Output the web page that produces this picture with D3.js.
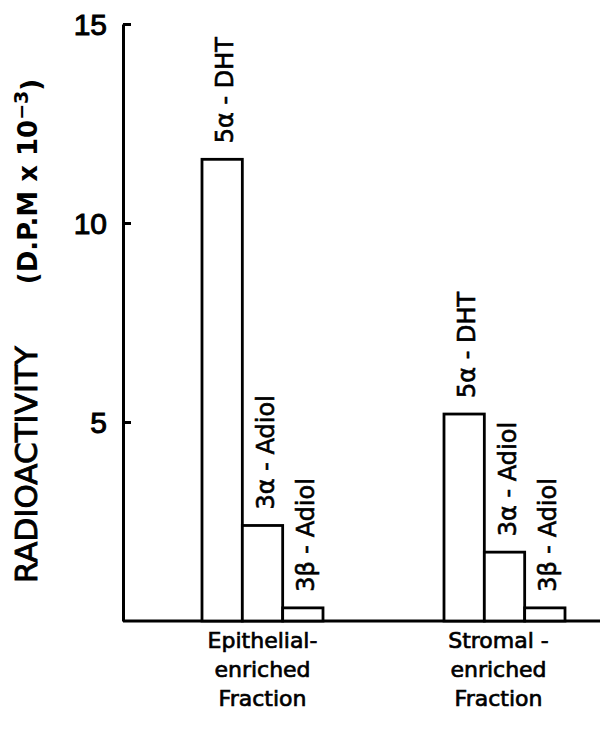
<!DOCTYPE html>
<html>
<head>
<meta charset="utf-8">
<script src="https://cdn.jsdelivr.net/npm/d3@7"></script>
<style>
  html, body { margin: 0; padding: 0; background: #fff; }
  svg { display: block; }
</style>
</head>
<body>
<div id="chart"></div>
<script>
// ---- data ----
const groups = ["Epithelial-enriched Fraction", "Stromal-enriched Fraction"];
const groupLabelLines = [["Epithelial-", "enriched", "Fraction"], ["Stromal -", "enriched", "Fraction"]];
const compounds = ["5α - DHT", "3α - Adiol", "3β - Adiol"];
const epithelialValues = [11.6, 2.4, 0.33];
const stromalValues = [5.2, 1.73, 0.33];
const yTicks = [5, 10, 15];
const yTitleMain = "RADIOACTIVITY";
const yTitleUnit = "(D.P.M  x  10";
const yTitleExp = "−3";

const seriesByGroup = [epithelialValues, stromalValues];

// ---- layout ----
const W = 600, H = 730;
const axisX = 123, baseY = 621, topY = 24;

const svg = d3.select("#chart").append("svg")
  .attr("width", W).attr("height", H);

const y = d3.scaleLinear().domain([0, 15]).range([baseY, topY]);
const xGroup = d3.scaleBand().domain(groups).range([202, 565]).paddingInner(0.5).paddingOuter(0);
const xInner = d3.scaleBand().domain(compounds).range([0, xGroup.bandwidth()]).padding(0);

// baseline
svg.append("line")
  .attr("x1", axisX).attr("x2", 600)
  .attr("y1", y(0)).attr("y2", y(0))
  .attr("stroke", "#000").attr("stroke-width", 3);

// y axis
const yAxis = d3.axisLeft(y).tickValues(yTicks).tickSizeInner(-8).tickSizeOuter(0).tickPadding(16);
const gy = svg.append("g").attr("transform", `translate(${axisX},0)`).call(yAxis);
gy.attr("font-family", null).attr("font-size", null);
gy.select(".domain").attr("stroke", "#000").attr("stroke-width", 3);
gy.selectAll(".tick line").attr("stroke", "#000").attr("stroke-width", 3);
gy.selectAll(".tick text")
  .attr("fill", "#000")
  .attr("stroke", "#000").attr("stroke-width", 1)
  .style("font-family", "'Liberation Sans', Arial, sans-serif")
  .style("font-size", "30px")
  .attr("dy", "0.36em");

// y title
svg.append("text")
  .attr("transform", `translate(37,${(342 + 587) / 2}) rotate(-90)`)
  .attr("text-anchor", "middle")
  .style("font-family", "'DejaVu Sans', sans-serif")
  .style("font-size", "31px")
  .attr("fill", "#000")
  .attr("stroke", "#000").attr("stroke-width", 0.9)
  .text(yTitleMain);

const unit = svg.append("text")
  .attr("transform", `translate(37,${(73 + 290) / 2}) rotate(-90)`)
  .attr("text-anchor", "middle")
  .style("font-family", "'DejaVu Sans', sans-serif")
  .style("font-size", "26px")
  .style("font-weight", "bold")
  .attr("fill", "#000");
unit.append("tspan").text(yTitleUnit);
unit.append("tspan").attr("dy", "-0.45em").style("font-size", "19px").text(yTitleExp);
unit.append("tspan").attr("dy", "0.45em").text(")");

// bars
const barData = [];
groups.forEach((g, gi) => {
  compounds.forEach((c, ci) => {
    barData.push({ group: g, compound: c, value: seriesByGroup[gi][ci] });
  });
});

const bars = svg.append("g");
bars.selectAll("rect").data(barData).join("rect")
  .attr("x", d => xGroup(d.group) + xInner(d.compound))
  .attr("y", d => y(d.value))
  .attr("width", xInner.bandwidth())
  .attr("height", d => y(0) - y(d.value))
  .attr("fill", "#fff")
  .attr("stroke", "#000")
  .attr("stroke-width", 2.8);

// bar labels
svg.append("g").selectAll("text").data(barData).join("text")
  .attr("transform", d => {
    const cx = xGroup(d.group) + xInner(d.compound) + xInner.bandwidth() / 2 + 11;
    const cy = y(d.value) - 16;
    return `translate(${cx},${cy}) rotate(-90)`;
  })
  .attr("text-anchor", "start")
  .style("font-family", "'DejaVu Sans', sans-serif")
  .style("font-size", "24px")
  .attr("fill", "#000")
  .attr("stroke", "#000").attr("stroke-width", 0.6)
  .text(d => d.compound);

// group labels
const gl = svg.append("g").selectAll("text").data(groups).join("text")
  .attr("text-anchor", "middle")
  .style("font-family", "'DejaVu Sans', sans-serif")
  .style("font-size", "22px")
  .attr("fill", "#000")
  .attr("stroke", "#000").attr("stroke-width", 0.7);
gl.each(function(d, i) {
  const t = d3.select(this);
  const cx = xGroup(d) + xGroup.bandwidth() / 2 - (i === 1 ? 6 : 0);
  groupLabelLines[i].forEach((line, li) => {
    t.append("tspan").attr("x", cx).attr("y", 648 + li * 29).text(line);
  });
});
</script>
</body>
</html>
